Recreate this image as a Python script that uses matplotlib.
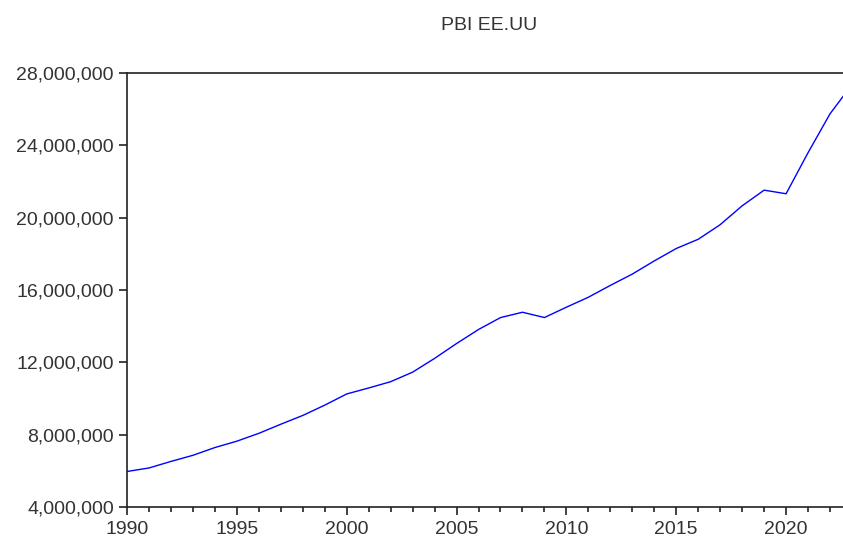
import matplotlib
matplotlib.use("Agg")
import matplotlib.pyplot as plt
from matplotlib.ticker import FuncFormatter, MultipleLocator

# US GDP, annual (millions of current US$)
years = [1990, 1991, 1992, 1993, 1994, 1995, 1996, 1997, 1998, 1999,
         2000, 2001, 2002, 2003, 2004, 2005, 2006, 2007, 2008, 2009,
         2010, 2011, 2012, 2013, 2014, 2015, 2016, 2017, 2018, 2019,
         2020, 2021, 2022, 2023]
pbi = [5963144, 6158129, 6520327, 6858559, 7287236, 7639749, 8073122,
       8577552, 9062817, 9631172, 10250952, 10581929, 10929108, 11456450,
       12217196, 13039197, 13815583, 14474228, 14769862, 14478067,
       15048971, 15599731, 16253970, 16880683, 17608138, 18295019,
       18804913, 19612102, 20656516, 21521395, 21322950, 23594031,
       25744108, 27360935]

plt.rcParams["font.family"] = ["Liberation Sans", "DejaVu Sans"]

fig = plt.figure(figsize=(8.43, 5.43), dpi=100)
ax = fig.add_axes([127 / 843, 36 / 543, 725 / 843, 434 / 543])

ax.plot(years, pbi, color="#0000ff", lw=1.0)

ax.set_xlim(1990, 2023)
ax.set_ylim(4_000_000, 28_000_000)
ax.xaxis.set_major_locator(MultipleLocator(5))
ax.xaxis.set_minor_locator(MultipleLocator(1))
ax.yaxis.set_major_locator(MultipleLocator(4_000_000))
ax.yaxis.set_major_formatter(FuncFormatter(lambda v, p: f"{int(v):,}"))

for s in ax.spines.values():
    s.set_color("#222222")
    s.set_linewidth(1.2)
ax.tick_params(which="major", direction="out", length=6, width=1.2,
               colors="#222222", labelsize=14, labelcolor="#333333")
ax.tick_params(which="minor", direction="out", length=3.5, width=1.2,
               colors="#222222")
ax.tick_params(axis="x", pad=4)

ax.set_title("PBI EE.UU", fontsize=14, color="#333333", pad=31)

fig.savefig("out.png", dpi=100)
